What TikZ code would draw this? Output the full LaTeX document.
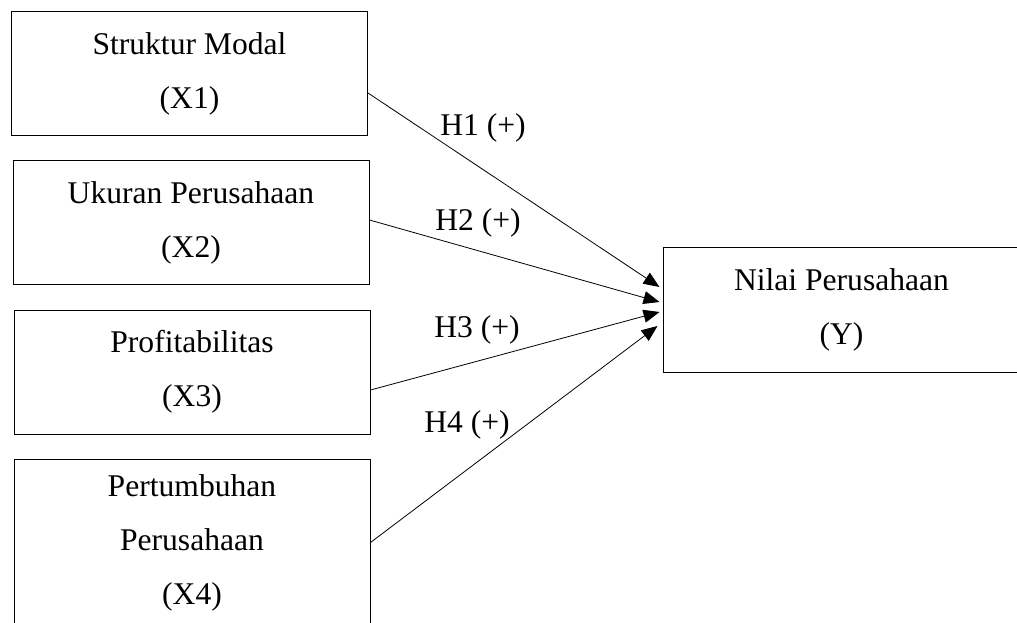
\documentclass[tikz,border=0pt]{standalone}
\usepackage{fontspec}
\setmainfont{Liberation Serif}
\usetikzlibrary{arrows.meta,positioning}

\begin{document}
\begin{tikzpicture}[x=1pt,y=-1pt,
    varbox/.style={draw,line width=1pt,minimum width=356pt,minimum height=124pt,
        align=center,inner sep=0pt,font=\fontsize{31.6}{54}\selectfont},
    hyplabel/.style={font=\fontsize{31.6}{38}\selectfont},
    hyparrow/.style={line width=0.8pt,-{Triangle[length=16pt,width=13pt]}}]
    \useasboundingbox (0,0) rectangle (1017,623);

    % Independent variables.
    \node[varbox] (x1) at (189.5,74) {Struktur Modal\\(X1)};
    \node[varbox] (x2) at (191,222.5) {Ukuran Perusahaan\\(X2)};
    \node[varbox] (x3) at (192,372) {Profitabilitas\\(X3)};
    \node[varbox,minimum height=167pt] (x4) at (192,542.5) {Pertumbuhan\\Perusahaan\\(X4)};

    % Dependent variable.
    \node[varbox,minimum width=357pt,minimum height=125pt] (y) at (841.5,309.5) {Nilai Perusahaan\\(Y)};

    % Hypothesis arrows.
    \draw[hyparrow] ([yshift=-19pt]x1.east) -- ([xshift=-3pt,yshift=22.5pt]y.west);
    \draw[hyparrow] ([yshift=2.5pt]x2.east) -- ([xshift=-3pt,yshift=7.5pt]y.west);
    \draw[hyparrow] ([yshift=-18pt]x3.east) -- ([xshift=-3pt,yshift=-2.5pt]y.west);
    \draw[hyparrow] (x4.east) -- ([xshift=-5pt,yshift=-16.5pt]y.west);

    % Label hypotheses.
    \node[hyplabel] (h1) at (483,128) {H1 (+)};
    \node[hyplabel] (h2) at (478,223) {H2 (+)};
    \node[hyplabel] (h3) at (477,330) {H3 (+)};
    \node[hyplabel] (h4) at (467,425) {H4 (+)};

\end{tikzpicture}
\end{document}
